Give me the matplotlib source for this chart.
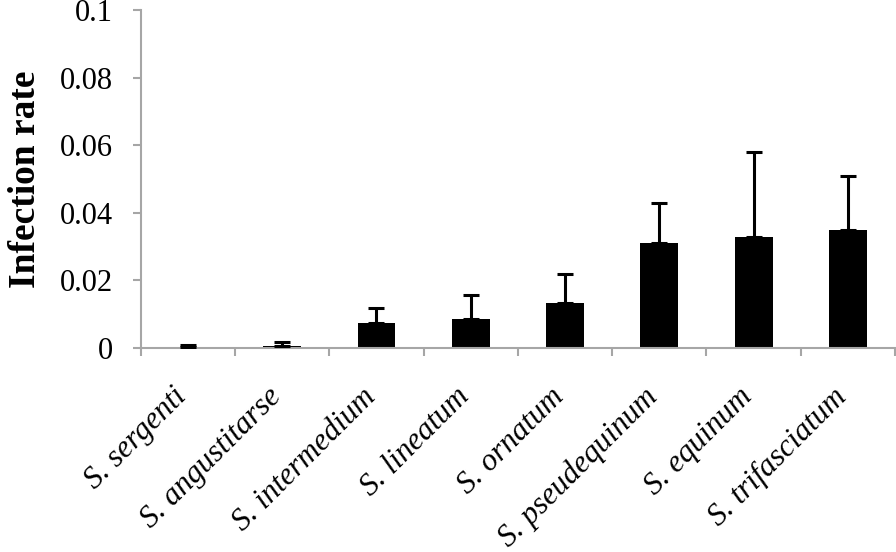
import matplotlib
matplotlib.use("Agg")
import matplotlib.pyplot as plt
import numpy as np

species = ["S. sergenti", "S. angustitarse", "S. intermedium", "S. lineatum",
           "S. ornatum", "S. pseudequinum", "S. equinum", "S. trifasciatum"]
rate = [0.0003, 0.0007, 0.0075, 0.0087, 0.0132, 0.0311, 0.0328, 0.0348]
err_up = [0.0007, 0.0010, 0.0044, 0.0070, 0.0088, 0.0119, 0.0253, 0.0160]
y_ticks = [0, 0.02, 0.04, 0.06, 0.08, 0.1]
y_labels = ["0", "0.02", "0.04", "0.06", "0.08", "0.1"]

plt.rcParams['font.family'] = ['Liberation Serif', 'DejaVu Serif']
grey = '#a6a6a6'

fig = plt.figure(figsize=(8.96, 5.52), dpi=100)
ax = fig.add_axes([0.157, 0.3696, 0.842, 0.6123])

x = np.arange(len(species))
ax.bar(x, rate, width=0.4, color='black', zorder=2)
ax.errorbar(x, rate, yerr=[np.zeros(len(rate)), err_up], fmt='none',
            ecolor='black', elinewidth=2.2, capsize=6, capthick=2.2, zorder=3)

ax.set_xlim(-0.5, 7.5)
ax.set_ylim(0, 0.1)
ax.set_yticks(y_ticks)
ax.set_yticklabels(y_labels, fontsize=22)
ax.set_xticks(x)
ax.set_xticklabels(species, fontsize=22.5, style='italic', rotation=45,
                   ha='right', va='baseline', rotation_mode='anchor')
ax.set_xticks(np.arange(-0.5, 8, 1), minor=True)
ax.tick_params(axis='x', which='major', length=0, pad=36)
ax.tick_params(axis='x', which='minor', length=6, width=1.5, color=grey, direction='out')
ax.tick_params(axis='y', length=6, width=1.5, color=grey, direction='out', pad=14)

for s in ['top', 'right']:
    ax.spines[s].set_visible(False)
for s in ['left', 'bottom']:
    ax.spines[s].set_color(grey)
    ax.spines[s].set_linewidth(1.5)

ax.set_ylabel("Infection rate", fontsize=27, fontweight='bold', labelpad=12)

fig.savefig("out.png", dpi=100)
